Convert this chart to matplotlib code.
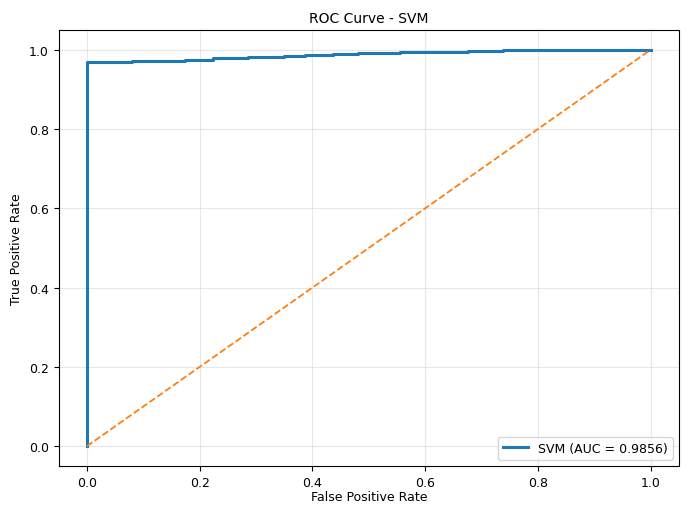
import matplotlib
matplotlib.use("Agg")
import matplotlib.pyplot as plt
import numpy as np

# ROC points (staircase)
fpr = [0.0, 0.0, 0.08, 0.08, 0.174, 0.174, 0.224, 0.224, 0.285, 0.285,
       0.35, 0.35, 0.386, 0.386, 0.436, 0.436, 0.48, 0.48, 0.555, 0.555,
       0.676, 0.676, 0.738, 0.738, 0.81, 0.81, 1.0]
tpr = [0.0, 0.969, 0.969, 0.971, 0.971, 0.975, 0.975, 0.978, 0.978, 0.981,
       0.981, 0.984, 0.984, 0.987, 0.987, 0.989, 0.989, 0.991, 0.991, 0.993,
       0.993, 0.996, 0.996, 0.998, 0.998, 1.0, 1.0]
auc = 0.9856

fig = plt.figure(figsize=(6.9, 5.06), dpi=100)
ax = fig.add_subplot(111)
fig.subplots_adjust(left=0.085, right=0.984, top=0.939, bottom=0.077)

ax.plot(fpr, tpr, color='#1f77b4', linewidth=2.2, label="SVM (AUC = %.4f)" % auc)
ax.plot([0, 1], [0, 1], color='#ff7f0e', linestyle='--', linewidth=1.3)

ax.set_xlim(-0.05, 1.05)
ax.set_ylim(-0.05, 1.05)
ax.set_xticks(np.arange(0, 1.01, 0.2))
ax.set_yticks(np.arange(0, 1.01, 0.2))
ax.grid(True, alpha=0.3)

ax.set_title("ROC Curve - SVM", fontsize=10)
ax.set_xlabel("False Positive Rate", fontsize=9, labelpad=1)
ax.set_ylabel("True Positive Rate", fontsize=9)
ax.tick_params(labelsize=9)
ax.legend(loc='lower right', fontsize=9)

plt.savefig("out.png", dpi=100)
plt.close()
